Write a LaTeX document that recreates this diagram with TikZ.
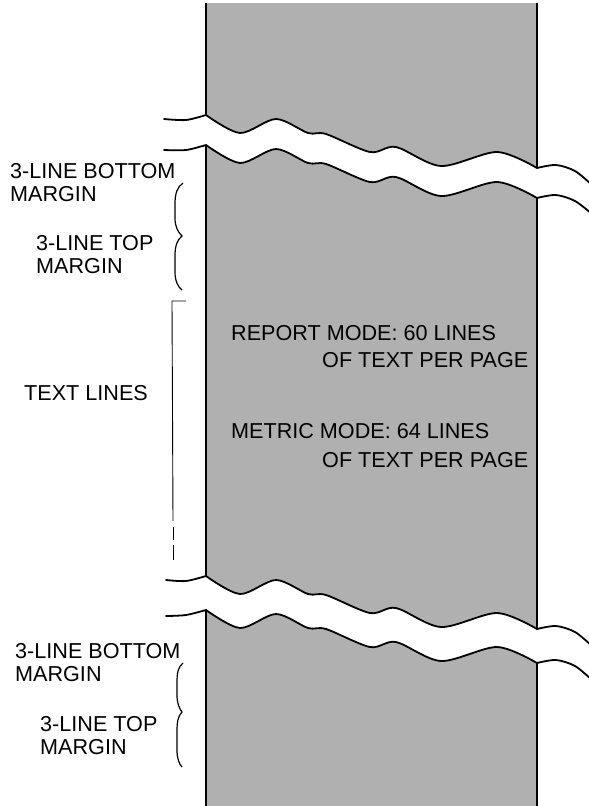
\documentclass[tikz,border=0pt]{standalone}
\usepackage{fontspec}
\setmainfont{Liberation Sans}
\definecolor{paper}{gray}{0.69}
\tikzset{
  lbl/.style={anchor=base west, inner sep=0pt, font=\fontsize{21.6}{23}\selectfont},
  edgeline/.style={line width=1.7pt, line join=round},
  wavel/.style={line width=1.8pt, line cap=round},
  bracel/.style={line width=1.2pt},
  brk/.style={line width=0.9pt}
}
\begin{document}
\begin{tikzpicture}[x=1pt,y=-1pt]
\useasboundingbox (0,0) rectangle (589,806);
% paper strip
\fill[paper] (206,3) rectangle (537,806);
% gaps of the breaks
\fill[white] plot[smooth] coordinates {(206,115) (240,133) (276,119) (308,133) (326,134) (370,152) (396,147) (441,166) (497,152) (537,168)}
  -- plot[smooth] coordinates {(537,198) (497,182) (441,196) (396,177) (370,182) (326,164) (308,163) (276,149) (240,163) (206,145)} -- cycle;
\fill[white] plot[smooth] coordinates {(206,576) (240,594) (276,580) (308,594) (326,595) (370,613) (396,608) (441,627) (497,613) (537,629)}
  -- plot[smooth] coordinates {(537,663) (497,647) (441,661) (396,642) (370,647) (326,629) (308,628) (276,614) (240,628) (206,610)} -- cycle;
% strip edges
\coordinate (L0) at (206,3);   \coordinate (R0) at (537,3);
\coordinate (L1) at (206,115); \coordinate (R1) at (537,168);
\coordinate (L2) at (206,145); \coordinate (R2) at (537,198);
\coordinate (L3) at (206,576); \coordinate (R3) at (537,629);
\coordinate (L4) at (206,610); \coordinate (R4) at (537,663);
\coordinate (L5) at (206,806); \coordinate (R5) at (537,806);
\draw[edgeline] (L0) -- (L1); \draw[edgeline] (L2) -- (L3); \draw[edgeline] (L4) -- (L5);
\draw[edgeline] (R0) -- (R1); \draw[edgeline] (R2) -- (R3); \draw[edgeline] (R4) -- (R5);
% break lines
\draw[wavel] plot[smooth] coordinates {(164,119) (186,120) (206,115)};
\draw[wavel] plot[smooth] coordinates {(206,115) (240,133) (276,119) (308,133) (326,134) (370,152) (396,147) (441,166) (497,152) (537,168)};
\draw[wavel] plot[smooth] coordinates {(537,168) (556,165) (575,171) (592,185)};
\draw[wavel] plot[smooth] coordinates {(164,150) (186,150) (206,145)};
\draw[wavel] plot[smooth] coordinates {(206,145) (240,163) (276,149) (308,163) (326,164) (370,182) (396,177) (441,196) (497,182) (537,198)};
\draw[wavel] plot[smooth] coordinates {(537,198) (556,195) (575,201) (592,214)};
\draw[wavel] plot[smooth] coordinates {(166,580) (186,581) (206,576)};
\draw[wavel] plot[smooth] coordinates {(206,576) (240,594) (276,580) (308,594) (326,595) (370,613) (396,608) (441,627) (497,613) (537,629)};
\draw[wavel] plot[smooth] coordinates {(537,629) (556,626) (575,632) (592,646)};
\draw[wavel] plot[smooth] coordinates {(166,616) (186,615) (206,610)};
\draw[wavel] plot[smooth] coordinates {(206,610) (240,628) (276,614) (308,628) (326,629) (370,647) (396,642) (441,661) (497,647) (537,663)};
\draw[wavel] plot[smooth] coordinates {(537,663) (556,660) (575,666) (592,680)};
% labels
\node[lbl] (bm1) at (10,178) {3-LINE BOTTOM};
\node[lbl] (bm1b) at (10,201) {MARGIN};
\node[lbl] (tm1) at (36,250) {3-LINE TOP};
\node[lbl] (tm1b) at (36,273) {MARGIN};
\node[lbl] (tl) at (24,400) {TEXT LINES};
\node[lbl] (r1) at (231,340) {REPORT MODE: 60 LINES};
\node[lbl] (r2) at (322,367) {OF TEXT PER PAGE};
\node[lbl] (m1) at (231,438) {METRIC MODE: 64 LINES};
\node[lbl] (m2) at (322,467) {OF TEXT PER PAGE};
\node[lbl] (bm2) at (15,658) {3-LINE BOTTOM};
\node[lbl] (bm2b) at (15,681) {MARGIN};
\node[lbl] (tm2) at (40,731) {3-LINE TOP};
\node[lbl] (tm2b) at (40,754) {MARGIN};
% braces
\draw[bracel] (183,183) .. controls (177,187) and (175,194) .. (175,204) -- (175,218)
  .. controls (175,227) and (178,232) .. (182,236)
  .. controls (177,240) and (175,246) .. (175,256) -- (175,272)
  .. controls (175,281) and (178,287) .. (182,290);
\draw[bracel] (183,663) .. controls (178,667) and (177,673) .. (177,682) -- (177,695)
  .. controls (177,703) and (179,708) .. (182,712)
  .. controls (178,716) and (177,722) .. (177,731) -- (177,750)
  .. controls (177,758) and (179,764) .. (182,767);
% text-lines bracket
\coordinate (bt) at (186,301);
\coordinate (bc) at (172,301);
\coordinate (bb) at (173,521);
\draw[brk] (bt) -- (bc) -- (bb);
\coordinate (d1a) at (173,527); \coordinate (d1b) at (173,540);
\coordinate (d2a) at (173,545); \coordinate (d2b) at (173,560);
\draw[brk] (d1a) -- (d1b);
\draw[brk] (d2a) -- (d2b);
\end{tikzpicture}
\end{document}
